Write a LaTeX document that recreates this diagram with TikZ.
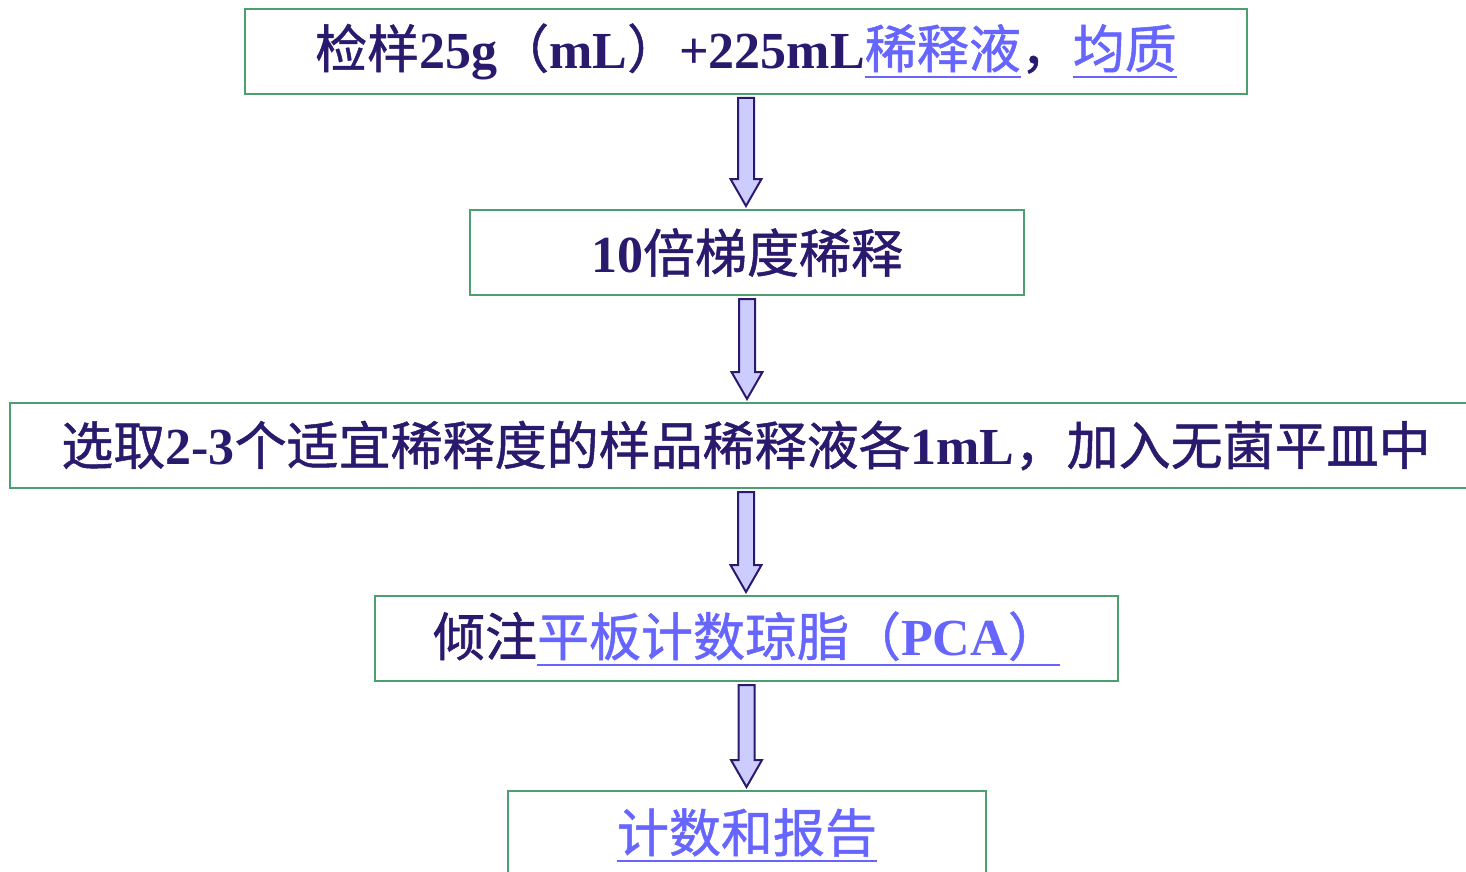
\documentclass[tikz,border=0pt]{standalone}
\usepackage{fontspec}
\setmainfont{Liberation Serif}[BoldFont={Liberation Serif Bold}]
\newfontfamily\cjk{Noto Sans CJK SC}[FakeBold=1]
\usetikzlibrary{calc}
\definecolor{boxgreen}{RGB}{76,160,112}
\definecolor{navytext}{RGB}{42,26,110}
\definecolor{linkblue}{RGB}{102,102,255}
\definecolor{arrowfill}{RGB}{204,204,255}
\newcommand\zh[1]{{\cjk\mdseries #1}}
\newsavebox\lkbox
\newcommand\lk[1]{{\color{linkblue}\sbox\lkbox{#1}\rlap{\rule[-4.8pt]{\wd\lkbox}{1pt}}\usebox\lkbox}}
\tikzset{
  stepbox/.style={draw=boxgreen, line width=1pt, fill=white, rectangle, inner sep=0pt,
    minimum height=42.5pt, text=navytext,
    font=\fontsize{26pt}{30pt}\selectfont\bfseries},
  blockarrow/.style={draw=navytext, fill=arrowfill, line width=1pt, line join=miter}
}
\newcommand\blockarrow[2]{%
  \draw[blockarrow] let \p1=(#1.south), \p2=(#2.north) in
    (\x1-4pt,\y1-1.5pt) -- (\x1-4pt,\y2+15pt) -- (\x1-7.75pt,\y2+15pt) --
    (\x1,\y2+1.5pt) -- (\x1+7.75pt,\y2+15pt) -- (\x1+4pt,\y2+15pt) --
    (\x1+4pt,\y1-1.5pt) -- cycle;}
\begin{document}
\begin{tikzpicture}[x=0.5pt,y=-0.5pt]
\useasboundingbox (0,0) rectangle (1466,872);
\node[stepbox, minimum width=501pt] (b1) at (746,51.5)
  {\raisebox{-2pt}{\zh{检样}25g\zh{（}mL\zh{）}+225mL\lk{\zh{稀释液}}\zh{，}\lk{\zh{均质}}}};
\node[stepbox, minimum width=277pt] (b2) at (747,252.5)
  {10\zh{倍梯度稀释}};
\node[stepbox, minimum width=736pt] (b3) at (746,445.5)
  {\zh{选取}2-3\zh{个适宜稀释度的样品稀释液各}1mL\zh{，加入无菌平皿中}};
\node[stepbox, minimum width=371.5pt] (b4) at (746.5,638.5)
  {\zh{倾注}\lk{\zh{平板计数琼脂（}PCA\zh{）}}};
\node[stepbox, minimum width=239pt, minimum height=44pt] (b5) at (747,835)
  {\lk{\zh{计数和报告}}};
\blockarrow{b1}{b2}
\blockarrow{b2}{b3}
\blockarrow{b3}{b4}
\blockarrow{b4}{b5}
\end{tikzpicture}
\end{document}
